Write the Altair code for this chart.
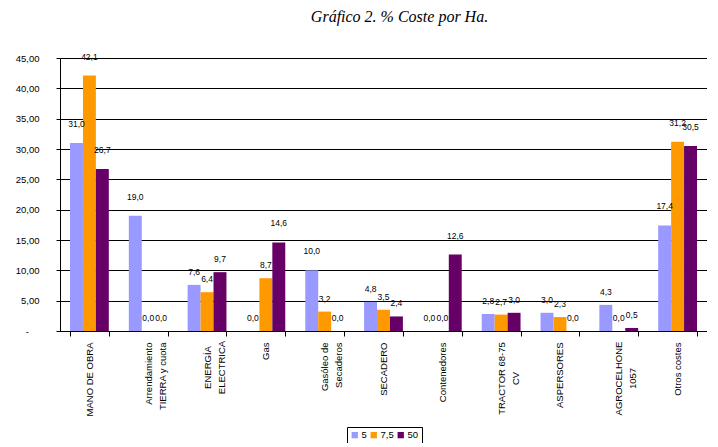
import altair as alt
import pandas as pd

categories = [
    "MANO DE OBRA",
    "Arrendamiento|TIERRA y cuota",
    "ENERGÍA|ELECTRICA",
    "Gas",
    "Gasóleo de|Secaderos",
    "SECADERO",
    "Contenedores",
    "TRACTOR 68-75|CV",
    "ASPERSORES",
    "AGROCELHONE|1057",
    "Otros costes",
]
series = ["5", "7,5", "50"]
colors = ["#9999FF", "#FF9900", "#660066"]

vals_5 = [31.0, 19.0, 7.6, 0.0, 10.0, 4.8, 0.0, 2.8, 3.0, 4.3, 17.4]
vals_75 = [42.1, 0.0, 6.4, 8.7, 3.2, 3.5, 0.0, 2.7, 2.3, 0.0, 31.2]
vals_50 = [26.7, 0.0, 9.7, 14.6, 0.0, 2.4, 12.6, 3.0, 0.0, 0.5, 30.5]

y_ticks = [0, 5, 10, 15, 20, 25, 30, 35, 40, 45]

rows = []
for s, vals in zip(series, [vals_5, vals_75, vals_50]):
    for c, v in zip(categories, vals):
        rows.append({"cat": c, "serie": s, "value": v})
df = pd.DataFrame(rows)

FONT = "Liberation Sans"

t_energia = "datum.value == 'ENERGÍA|ELECTRICA'"
t_long = "datum.value == 'TRACTOR 68-75|CV' || datum.value == 'AGROCELHONE|1057'"

y_enc = alt.Y(
    "value:Q",
    title=None,
    scale=alt.Scale(domain=[0, 45], nice=False),
    axis=alt.Axis(
        values=y_ticks,
        labelOverlap=False,
        labelExpr="datum.value == 0 ? '-\u2007\u2007\u200b' : replace(format(datum.value, '.2f'), '.', ',')",
        labelFont=FONT,
        labelFontSize=9.5,
        labelColor="black",
        labelPadding=17,
        tickSize=4,
        tickColor="black",
        domainColor="black",
        grid=True,
        gridColor="black",
        gridWidth=1,
        gridOpacity=1,
    ),
)

base = alt.Chart(df).transform_calculate(
    label="replace(format(datum.value, '.1f'), '.', ',')"
).encode(
    x=alt.X(
        "cat:N",
        sort=categories,
        title=None,
        scale=alt.Scale(paddingInner=0.34, paddingOuter=0.17),
        axis=alt.Axis(
            labelAngle=270,
            labelExpr="split(datum.label, '|')",
            labelFont=FONT,
            labelFontSize=9.5,
            labelColor="black",
            labelLineHeight=14,
            labelAlign={
                "condition": {"test": t_energia + " || " + t_long, "value": "center"},
                "value": "right",
            },
            labelPadding={
                "condition": [
                    {"test": t_energia, "value": 31},
                    {"test": t_long, "value": 42},
                ],
                "value": 6,
            },
            labelLimit=200,
            labelOverlap=False,
            tickBand="extent",
            tickSize=5,
            tickColor="black",
            domainColor="black",
            grid=False,
        ),
    ),
    xOffset=alt.XOffset("serie:N", sort=series, scale=alt.Scale(paddingInner=0, paddingOuter=0)),
    y=y_enc,
)

bars = base.mark_bar().encode(
    color=alt.Color(
        "serie:N",
        sort=series,
        scale=alt.Scale(domain=series, range=colors),
        legend=alt.Legend(
            title=None,
            orient="none",
            legendX=287,
            legendY=369,
            direction="horizontal",
            strokeColor="black",
            padding=3,
            symbolType="square",
            symbolSize=40,
            symbolStrokeWidth=0,
            labelFont=FONT,
            labelFontSize=9.5,
            labelColor="black",
            columnPadding=2,
            labelOffset=2,
        ),
    ),
)

text_hi = base.transform_filter("datum.value >= 10").mark_text(
    dy=-19, font=FONT, fontSize=8.5, color="black"
).encode(text=alt.Text("label:N"))

text_lo = base.transform_filter("datum.value < 10").mark_text(
    dy=-13, font=FONT, fontSize=8.5, color="black"
).encode(text=alt.Text("label:N"))

chart = alt.layer(bars, text_hi, text_lo).properties(
    width=647,
    height=273,
    title=alt.TitleParams(
        "Gráfico 2. % Coste por Ha.",
        font="Liberation Serif",
        fontStyle="italic",
        fontWeight="normal",
        fontSize=16,
        color="black",
        anchor="middle",
        frame="group",
        baseline="alphabetic",
        offset=15,
        dx=16,
    ),
    autosize=alt.AutoSizeParams(type="none"),
    padding={"left": 52, "top": 50, "right": 0, "bottom": 112},
    background="white",
).configure_view(strokeWidth=0)

chart.save("out.html", embed_options={"renderer": "svg", "actions": False})
